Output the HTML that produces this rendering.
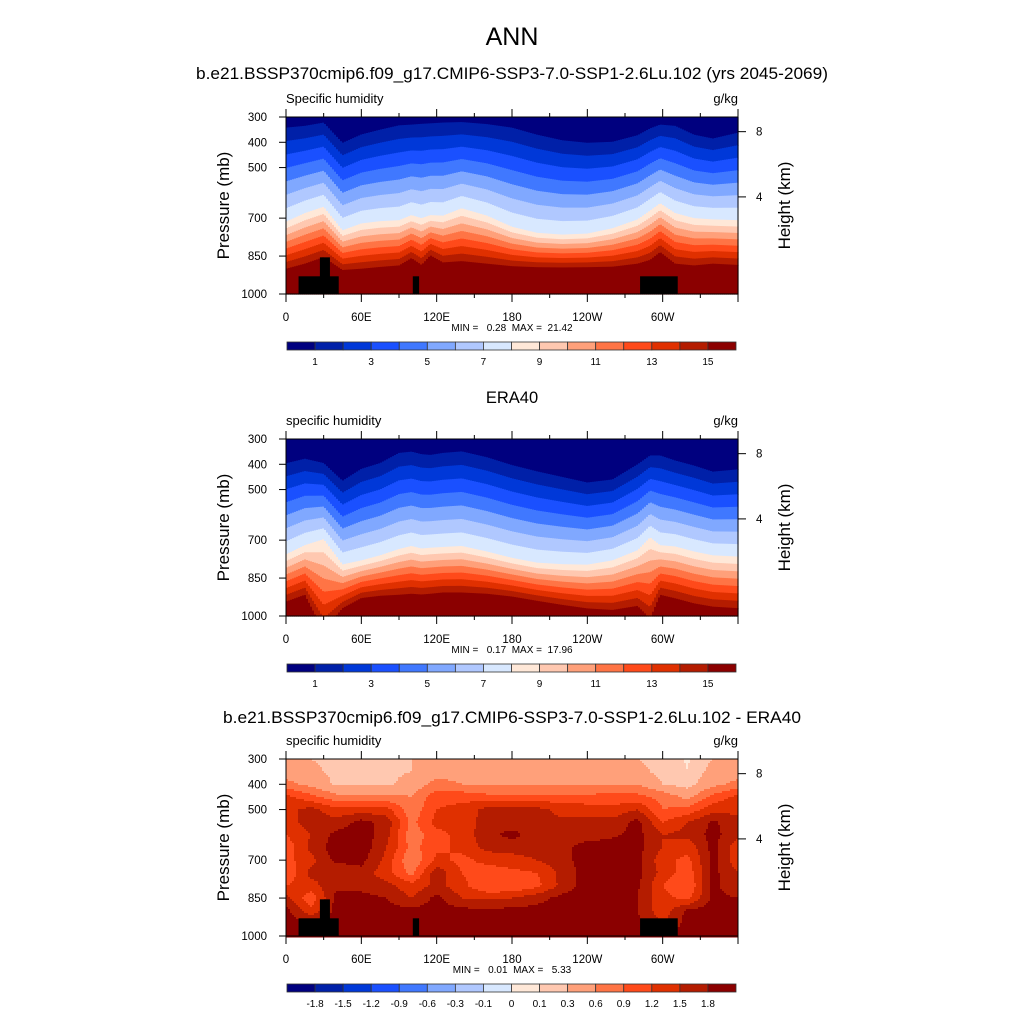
<!DOCTYPE html>
<html><head><meta charset="utf-8"><style>
html,body{margin:0;padding:0;background:#fff}
svg{display:block;font-family:"Liberation Sans",Arial,sans-serif}
.pre{white-space:pre}
</style></head><body>
<svg id="s" width="1024" height="1024" viewBox="0 0 1024 1024" xmlns="http://www.w3.org/2000/svg">
<rect width="1024" height="1024" fill="#fff"/>
<text x="512" y="45" font-size="25" text-anchor="middle">ANN</text>
<text x="512" y="79" font-size="16.5" text-anchor="middle" textLength="632" lengthAdjust="spacingAndGlyphs">b.e21.BSSP370cmip6.f09_g17.CMIP6-SSP3-7.0-SSP1-2.6Lu.102 (yrs 2045-2069)</text>
<text x="512" y="403" font-size="16.5" text-anchor="middle">ERA40</text>
<text x="512" y="723" font-size="16.5" text-anchor="middle" textLength="578" lengthAdjust="spacingAndGlyphs">b.e21.BSSP370cmip6.f09_g17.CMIP6-SSP3-7.0-SSP1-2.6Lu.102 - ERA40</text>
<g id="panels"></g>
</svg>
<script>
const colors=["#00007f","#0020a8","#0038d8","#1a50ff","#4078ff","#80a8ff","#b0c8ff","#d8e8ff","#ffe8d8","#ffc8b0","#ffa07a","#ff7445","#ff4a1a","#e03000","#b41c00","#8b0000"];
const lons=[0,15,30,45,60,75,90,100,108,115,125,140,160,180,200,220,240,260,280,290,298,310,325,340,360];
const m_top=[342,335,322,402,369,350,333,330,327,325,322,320,328,342,370,392,402,398,372,345,330,335,370,385,362];
const m_mid=[714,680,655,748,721,712,708,688,700,688,690,661,690,734,758,765,761,740,705,670,641,680,700,705,708];
const m_bot=[900,880,854,905,900,893,887,858,885,847,875,870,880,890,894,895,894,892,880,865,834,880,887,880,885];
const e_top=[396,378,395,465,418,395,355,350,360,363,355,349,372,403,428,450,472,460,400,365,365,385,405,429,420];
const e_mid=[756,720,696,796,780,760,735,723,733,730,727,723,745,770,789,795,797,780,740,689,720,725,745,760,765];
const e_bot=[943,916,1060,969,929,920,916,912,915,912,907,907,912,923,940,956,970,976,960,1010,916,930,950,963,969];
const dLons=[0,20,40,60,80,100,120,140,160,180,200,220,240,260,280,300,320,340,360];
const dLevs=[300,350,400,450,500,550,600,650,700,750,800,850,900,950,1000];
const dVals=[
[0.3,0.3,0.25,0.25,0.25,0.3,0.45,0.45,0.35,0.3,0.3,0.3,0.3,0.3,0.3,0.2,0.08,0.3,0.3],
[0.45,0.35,0.25,0.25,0.25,0.3,0.5,0.5,0.45,0.45,0.45,0.45,0.45,0.45,0.4,0.2,0.1,0.4,0.45],
[0.7,0.5,0.25,0.25,0.25,0.4,0.7,0.6,0.55,0.55,0.55,0.55,0.55,0.6,0.6,0.3,0.2,0.5,0.7],
[1.3,1.0,0.7,0.7,0.7,0.6,1.1,1.1,1.0,1.0,1.0,1.0,1.0,1.0,1.0,0.8,0.5,1.0,1.3],
[1.4,1.6,1.3,1.35,1.3,0.7,1.2,1.3,1.6,1.6,1.6,1.4,1.35,1.3,1.5,0.9,1.0,1.4,1.4],
[1.3,1.7,1.6,1.9,1.7,0.8,1.3,1.3,1.65,1.65,1.6,1.55,1.6,1.6,1.9,1.2,1.5,1.85,1.6],
[1.2,1.5,1.9,2.0,1.6,0.7,1.1,1.3,1.7,1.9,1.65,1.6,1.65,1.75,1.9,1.5,1.6,1.9,1.6],
[1.0,1.6,1.95,2.0,1.5,0.8,1.1,1.3,1.6,1.6,1.6,1.7,1.95,1.95,1.9,1.5,1.3,1.9,1.3],
[1.1,1.4,1.9,1.9,1.4,0.6,1.3,1.1,1.3,1.4,1.5,1.7,1.95,1.95,1.9,1.3,1.1,1.9,1.3],
[0.9,1.6,1.5,1.7,1.3,0.8,1.7,1.2,1.0,1.1,1.2,1.6,1.95,1.95,1.9,1.4,1.0,1.9,1.5],
[1.2,1.4,1.7,1.7,1.6,1.3,1.6,1.3,0.9,0.9,1.1,1.6,1.95,1.95,1.85,1.2,0.9,1.9,1.5],
[1.6,1.0,1.9,1.9,1.8,1.5,1.9,1.5,1.45,1.5,1.7,1.9,1.95,1.95,1.8,1.3,1.1,1.9,1.8],
[1.9,1.3,1.9,1.9,1.9,1.9,1.9,1.9,1.85,1.9,1.9,1.9,1.95,1.95,1.8,1.3,1.9,1.9,1.9],
[1.9,1.9,1.9,1.9,1.9,1.9,1.9,1.9,1.9,1.9,1.9,1.9,1.95,1.95,1.9,1.5,1.9,1.9,1.9],
[1.95,1.95,1.95,1.95,1.95,1.95,1.95,1.95,1.95,1.95,1.95,1.95,1.95,1.95,1.95,1.95,1.95,1.95,1.95]];
const dBounds=[-1.8,-1.5,-1.2,-0.9,-0.6,-0.3,-0.1,0,0.1,0.3,0.6,0.9,1.2,1.5,1.8];
const qLabels=["","1","","3","","5","","7","","9","","11","","13","","15"];
const dLabels=["","-1.8","-1.5","-1.2","-0.9","-0.6","-0.3","-0.1","0","0.1","0.3","0.6","0.9","1.2","1.5","1.8"];
const maskL0=[10,27,101,282], maskL1=[42,35,106,312], maskP=[930,855,930,930];
const pTicks=[300,400,500,700,850,1000];
const hTicks=[["8",358],["4",616]];
const xTickLon=[0,60,120,180,240,300], xTickLab=["0","60E","120E","180","120W","60W"];
const minmax=["MIN =   0.28  MAX =  21.42","MIN =   0.17  MAX =  17.96","MIN =   0.01  MAX =   5.33"];
const headL=["Specific humidity","specific humidity","specific humidity"];
const tops=[117,439,759];

const NS="http://www.w3.org/2000/svg";
const root=document.getElementById('panels');
function mk(tag,attrs,parent,txt){const e=document.createElementNS(NS,tag);for(const k in attrs)e.setAttribute(k,attrs[k]);if(txt!==undefined)e.textContent=txt;(parent||root).appendChild(e);return e;}
function interp(xs,vs,x){for(let i=0;i<xs.length-1;i++){if(x<=xs[i+1]){const t=(x-xs[i])/(xs[i+1]-xs[i]);return vs[i]+t*(vs[i+1]-vs[i]);}}return vs[vs.length-1];}
const X0=286,W=452,H=177;
const xs=lon=>X0+lon/360*W;

tops.forEach((T,pi)=>{
  const ys=p=>T+(p-300)/700*H;
  const g=mk('g',{});
  
  
  const fg=mk('g',{},g);
  
  
  const cw=2;
  if(pi<2){
    const tp=pi==0?m_top:e_top, md=pi==0?m_mid:e_mid, bt=pi==0?m_bot:e_bot;
    for(let c=0;c<W;c+=cw){
      const lon=(c+cw/2)/W*360;
      const a=interp(lons,tp,lon),m=interp(lons,md,lon),b=interp(lons,bt,lon);
      const bd=[300];
      for(let k=1;k<=15;k++)bd.push(k<=8?a+(k-1)/7*(m-a):m+(k-8)/7*(b-m));
      bd.push(1000);
      for(let k=0;k<16;k++){
        const p0=Math.max(300,Math.min(1000,bd[k])),p1=Math.max(300,Math.min(1000,bd[k+1]));
        if(p1>p0){const r=mk('rect',{x:X0+c,y:ys(p0).toFixed(2),width:cw+0.6,height:(ys(p1)-ys(p0)+0.6).toFixed(2),fill:colors[k]},fg);
        
        }
      }
    }
  } else {
    const rh=2;
    for(let r=0;r<H;r+=rh){
      const p=300+(r+rh/2)/H*700;
      let i=0;while(i<dLevs.length-2&&p>dLevs[i+1])i++;
      const t=(p-dLevs[i])/(dLevs[i+1]-dLevs[i]);
      const row=dVals[i].map((v,j)=>v+t*(dVals[i+1][j]-v));
      let runStart=0,runIdx=-1;
      for(let c=0;c<=W;c+=cw){
        let idx=-2;
        if(c<W){const v=interp(dLons,row,(c+cw/2)/W*360);idx=0;dBounds.forEach(bv=>{if(v>=bv)idx++;});}
        if(idx!==runIdx){
          if(runIdx>=0){const e=mk('rect',{x:X0+runStart,y:T+r,width:c-runStart+0.5,height:rh+0.5,fill:colors[runIdx]},fg);
          
          }
          runStart=c;runIdx=idx;
        }
      }
    }
  }
  if(pi!==1){
    maskL0.forEach((l0,i)=>{const e=mk('rect',{x:xs(l0),y:ys(maskP[i]),width:xs(maskL1[i])-xs(l0),height:ys(1000)-ys(maskP[i]),fill:"#000"},g);
    
    });
  }
  const fr=mk('rect',{x:X0,y:T,width:W,height:H,fill:"none",stroke:"#000","stroke-width":1},g);
  
  
  for(let lon=0;lon<=360;lon+=30){
    const L=lon%60==0?8:4,x=xs(lon);
    mk('line',{x1:x,x2:x,y1:T+H,y2:T+H+L,stroke:"#000"},g);
    mk('line',{x1:x,x2:x,y1:T,y2:T-L,stroke:"#000"},g);
  }
  xTickLon.forEach((l,i)=>{const e=mk('text',{x:xs(l),y:T+H+27,"font-size":11.5,"text-anchor":"middle"},g,xTickLab[i]);
  
  });
  pTicks.forEach(p=>{mk('line',{x1:X0-7,x2:X0,y1:ys(p),y2:ys(p),stroke:"#000"},g);
    const e=mk('text',{x:X0-19,y:ys(p)+4,"font-size":11.5,"text-anchor":"end"},g,String(p));
    
    });
  hTicks.forEach(h=>{mk('line',{x1:X0+W,x2:X0+W+8,y1:ys(h[1]),y2:ys(h[1]),stroke:"#000"},g);
    const e=mk('text',{x:X0+W+18,y:ys(h[1])+4,"font-size":11.5},g,h[0]);
    
    });
  let e=mk('text',{x:0,y:0,"font-size":17,"text-anchor":"middle",transform:`translate(229,${T+H/2}) rotate(-90)`},g,"Pressure (mb)");
  
  
  e=mk('text',{x:0,y:0,"font-size":17,"text-anchor":"middle",transform:`translate(790,${T+H/2}) rotate(-90)`},g,"Height (km)");
  
  
  e=mk('text',{x:X0,y:T-14,"font-size":13},g,headL[pi]);
  
  
  e=mk('text',{x:X0+W,y:T-14,"font-size":13,"text-anchor":"end"},g,"g/kg");
  
  
  e=mk('text',{x:512,y:T+H+37,"font-size":10,"text-anchor":"middle","class":"pre","xml:space":"preserve"},g,minmax[pi]);
  
  
  const cb=mk('g',{},g);
  
  
  const cy=T+225,cx=287,bw=449/16;
  colors.forEach((c,k)=>{const r=mk('rect',{x:cx+k*bw,y:cy,width:bw,height:8,fill:c,stroke:"#333","stroke-width":0.8},cb);
    
    });
  const labs=pi<2?qLabels:dLabels;
  labs.forEach((l,k)=>{if(!l)return;const t=mk('text',{x:cx+k*bw,y:cy+23,"font-size":10,"text-anchor":"middle"},cb,l);
    
    });
});
</script>
</body></html>
